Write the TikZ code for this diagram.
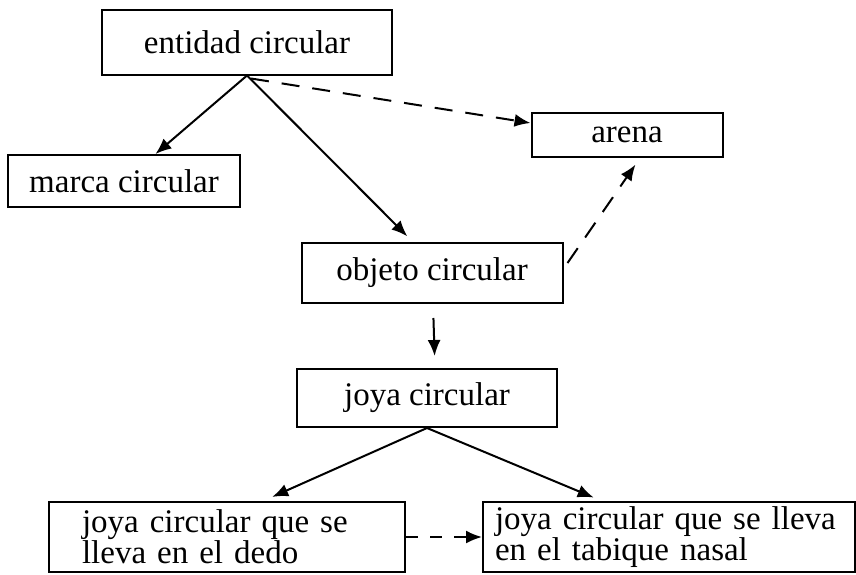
\documentclass[tikz,border=0pt]{standalone}
\usepackage{fontspec}
\setmainfont{Liberation Serif}
\usetikzlibrary{arrows.meta}

\begin{document}
\begin{tikzpicture}[x=1pt,y=-1pt,
    box/.style={draw,line width=2pt,inner sep=0pt,font=\fontsize{33}{30}\selectfont},
    arr/.style={line width=2pt,-{Latex[length=16pt,width=13pt]}},
    darr/.style={arr,dash pattern=on 18pt off 13pt}]
    \useasboundingbox (0,0) rectangle (856,574);
    % boxes
    \node[box,minimum width=290pt,minimum height=65pt] (entidad) at (247,42) {entidad circular};
    \node[box,minimum width=232pt,minimum height=52pt] (marca) at (124,181) {marca circular};
    \node[box,minimum width=191pt,minimum height=44pt] (arena) at (627,135) {arena};
    \node[box,minimum width=261pt,minimum height=60pt] (objeto) at (432,273) {objeto circular};
    \node[box,minimum width=260pt,minimum height=58pt] (joya) at (427,398) {joya circular};
    \node[box,inner xsep=33pt,text width=290pt,align=left,minimum height=70pt] (dedo) at (227,537) {joya circular que se\\lleva en el dedo};
    \node[box,inner xsep=12pt,text width=348pt,align=left,minimum height=70pt] (nasal) at (669,537) {joya circular que se lleva\\en el tabique nasal};
    % arrows
    \draw[arr] (entidad.south) -- (marca);
    \draw[arr,shorten >=8pt] (entidad.south) -- ([xshift=-19pt]objeto.north);
    \draw[darr] ([xshift=4pt,yshift=-3pt]entidad.south) -- ([yshift=12pt]arena.west);
    \draw[darr,shorten >=8pt] ([xshift=4pt,yshift=10pt]objeto.east) -- ([xshift=13pt]arena.south);
    \draw[arr,shorten <=14pt,shorten >=12pt] ([xshift=1pt]objeto.south) -- ([xshift=8pt]joya.north);
    \draw[arr,shorten >=10pt] (joya.south) -- ([xshift=36pt]dedo.north);
    \draw[arr,shorten >=9pt] (joya.south) -- ([xshift=-67pt]nasal.north);
    \draw[darr,dash pattern=on 12pt off 12pt] (dedo.east) -- (nasal.west);
\end{tikzpicture}
\end{document}
